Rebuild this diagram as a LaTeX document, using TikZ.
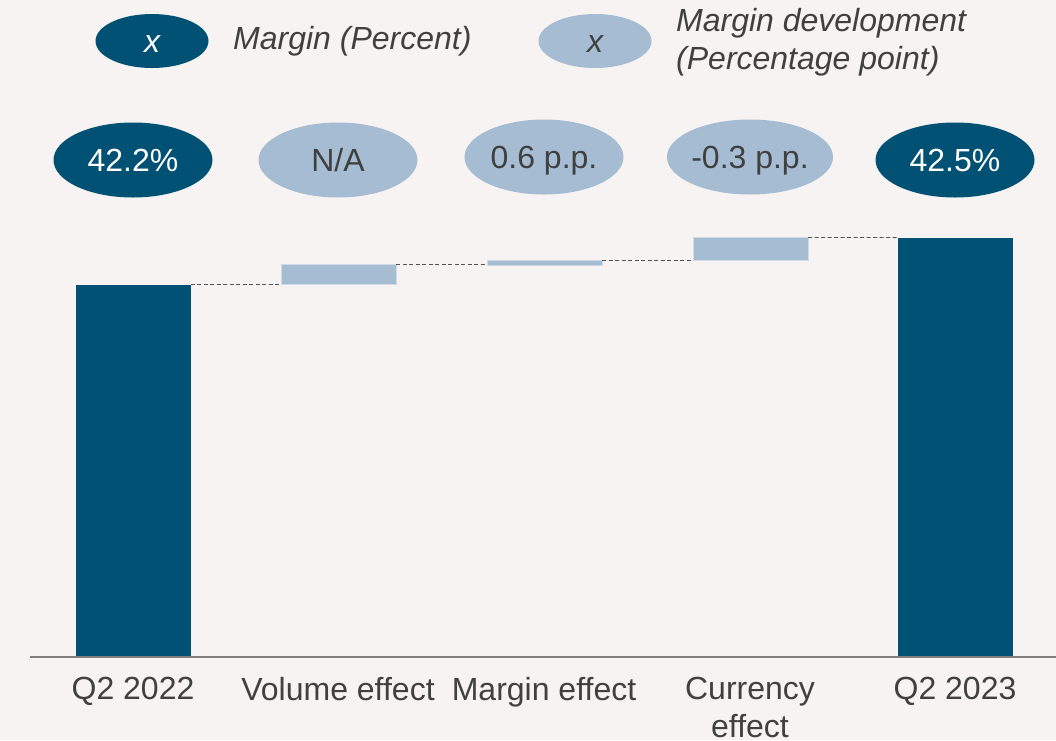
\documentclass[tikz,border=0pt]{standalone}
\usepackage{fontspec}
\setmainfont{Liberation Sans}
\usetikzlibrary{positioning, shapes.geometric}
\definecolor{marginblue}{RGB}{0, 81, 115}
\definecolor{devblue}{RGB}{166, 188, 210}
\definecolor{pagebg}{RGB}{247, 243, 242}
\definecolor{labelgray}{RGB}{64, 64, 64}
\newcommand{\chartfont}{\fontsize{32}{38}\selectfont}

\begin{document}
\begin{tikzpicture}[x=1pt, y=-1pt,
                pill/.style={ellipse, inner sep=0pt, text height=22pt, text depth=0pt,
                    minimum width=159pt, minimum height=75pt, font=\chartfont},
                pctpill/.style={pill, fill=marginblue, text=white},
                pppill/.style={pill, fill=devblue, text=labelgray},
                keypill/.style={minimum width=113pt, minimum height=54pt, font=\chartfont\itshape},
                bar/.style={rectangle, inner sep=0pt, minimum width=114.5pt, anchor=south west},
                totalbar/.style={bar, fill=marginblue},
                effectbar/.style={bar, fill=devblue, draw=devblue!55!white, line width=0.6pt},
                bridge/.style={draw=labelgray!90, line width=0.8pt, dash pattern=on 4pt off 2.5pt},
                axislabel/.style={font=\chartfont, text=labelgray, align=center, anchor=north, inner sep=0pt},
                keytext/.style={font=\chartfont\itshape, text=labelgray, align=left, anchor=west, inner sep=0pt}
            ]
            % page
            \fill[pagebg] (0,0) rectangle (1056,740);
            \useasboundingbox (0,0) rectangle (1056,740);

            % legend
            \node[pctpill, keypill] (keypct) at (152, 41) {x};
            \node[keytext] (keypcttext) at (233, 41) {Margin (Percent)};
            \node[pppill, keypill] (keypp) at (595, 41) {x};
            \node[keytext] (keypptext) at (676, 42) {Margin development\\(Percentage point)};

            % bars
            \node[totalbar, minimum height=372pt] (q22) at (76, 657) {};
            \node[effectbar, minimum height=20pt] (vol) at (281, 285) {};
            \node[effectbar, minimum height=5pt] (mar) at (487, 266) {};
            \node[effectbar, minimum height=23pt] (cur) at (693, 261) {};
            \node[totalbar, minimum height=419pt] (q23) at (898, 657) {};

            % bridges
            \draw[bridge] (q22.north east) -- (q22.north east -| vol.west);
            \draw[bridge] (vol.north east) -- (vol.north east -| mar.west);
            \draw[bridge] (mar.north east) -- (mar.north east -| cur.west);
            \draw[bridge] (cur.north east) -- (q23.north west);

            % axis
            \coordinate (axisL) at (30, 657);
            \coordinate (axisR) at (1056, 657);
            \draw[draw=gray, line width=1.6pt] (axisL) -- (axisR);

            % values
            \node[pctpill] (v22) at (133, 160) {42.2\%};
            \node[pppill] (vvol) at (338, 160) {N/A};
            \node[pppill] (vmar) at (544, 157) {0.6 p.p.};
            \node[pppill] (vcur) at (750, 157) {-0.3 p.p.};
            \node[pctpill] (v23) at (955, 160) {42.5\%};

            % categories
            \node[axislabel] (l22) at (133, 677) {Q2 2022};
            \node[axislabel] (lvol) at (338, 677) {Volume effect};
            \node[axislabel] (lmar) at (544, 677) {Margin effect};
            \node[axislabel] (lcur) at (750, 677) {Currency\\effect};
            \node[axislabel] (l23) at (955, 677) {Q2 2023};

            \end{tikzpicture}
\end{document}
